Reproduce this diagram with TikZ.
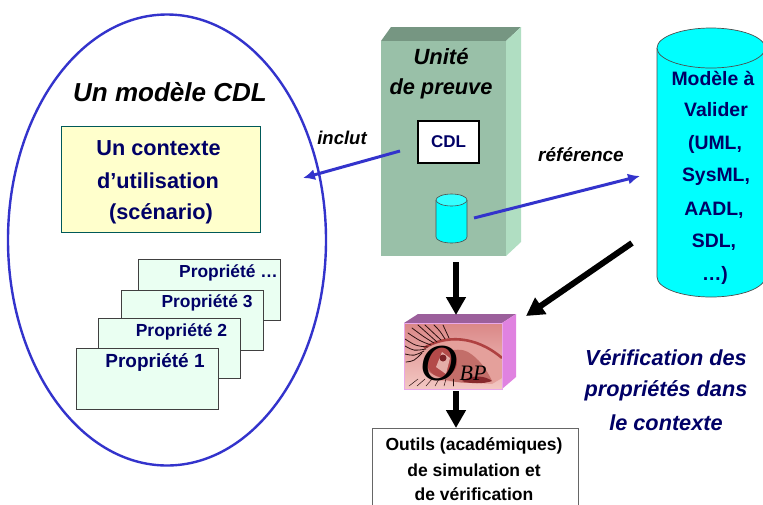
\documentclass[tikz,border=0pt]{standalone}
\usepackage{fontspec}
\setmainfont{Liberation Sans}
\newfontfamily\serifx{Liberation Serif}
\usetikzlibrary{arrows.meta,shapes.geometric}
\definecolor{navyt}{RGB}{0,0,102}
\definecolor{edgeblue}{RGB}{51,51,204}
\definecolor{mintf}{RGB}{234,255,242}
\definecolor{yellowf}{RGB}{255,255,204}
\definecolor{sage}{RGB}{153,192,168}
\definecolor{sagedark}{RGB}{118,150,130}
\definecolor{sagelight}{RGB}{176,222,194}
\definecolor{cyanf}{RGB}{0,255,255}
\definecolor{cyantop}{RGB}{51,255,255}
\definecolor{obptop}{RGB}{155,95,155}
\definecolor{obpside}{RGB}{224,130,224}
\definecolor{skinlight}{RGB}{243,200,195}
\definecolor{skinmid}{RGB}{228,160,155}
\definecolor{skintop}{RGB}{218,135,135}
\definecolor{eyered}{RGB}{175,65,65}
\definecolor{eyedark}{RGB}{125,35,40}
\definecolor{eyesoft}{RGB}{195,110,105}
\tikzset{
  navylab/.style={font=\bfseries\fontsize{#1}{#1}\selectfont,text=navyt,inner sep=0pt,anchor=center},
  blacklab/.style={font=\bfseries\itshape\fontsize{#1}{#1}\selectfont,text=black,inner sep=0pt,anchor=center},
  navyital/.style={font=\bfseries\itshape\fontsize{#1}{#1}\selectfont,text=navyt,inner sep=0pt,anchor=center},
  toollab/.style={font=\bfseries\fontsize{17.5}{17.5}\selectfont,text=black,inner sep=0pt,anchor=center},
  propbox/.style={draw=black!75,fill=mintf,line width=0.8pt,inner sep=0pt,anchor=north west,minimum width=142pt,minimum height=#1},
  bluearrow/.style={draw=edgeblue,line width=3pt,-{Latex[length=12pt,width=11pt]}},
  bigarrow/.style={draw=black,line width=6pt,-{Triangle[length=18pt,width=19pt]}},
  lash/.style={draw=black!75!eyered,line width=0.8pt,line cap=round},
}
\begin{document}
\begin{tikzpicture}[x=1pt,y=-1pt]
\useasboundingbox (0,0) rectangle (763,504);
\fill[white] (0,0) rectangle (763,504);
% large ellipse
\node[ellipse,draw=edgeblue,line width=2.4pt,minimum width=318pt,minimum height=451pt,inner sep=0pt] (modele) at (167,240) {};
\node[blacklab=26] (titre) at (170,92) {Un modèle CDL};
% context
\node[draw=teal!70!black,line width=0.6pt,fill=yellowf,minimum width=199pt,minimum height=106pt,inner sep=0pt] (ctx) at (160.5,179) {};
\node[navylab=21.7] (c1) at (158.5,148) {Un contexte};
\node[navylab=21.7] (c2) at (158,181) {d’utilisation};
\node[navylab=21.7] (c3) at (161,214) {(scénario)};
% properties
\node[propbox=61pt] (b4) at (138,259) {};
\node[navylab=17.4] (p4) at (228.5,273) {Propriété …};
\node[propbox=60pt] (b3) at (121,290) {};
\node[navylab=17.4] (p3) at (207,303) {Propriété 3};
\node[propbox=60pt] (b2) at (98,318) {};
\node[navylab=17.5] (p2) at (181.5,332) {Propriété 2};
\node[propbox=61pt] (b1) at (76,348) {};
\node[navylab=19] (p1) at (155,362) {Propriété 1};
% proof unit
\fill[sagedark] (381,41) -- (391,27) -- (521,27) -- (506,41) -- cycle;
\fill[sagelight] (506,41) -- (521,27) -- (521,242) -- (506,256) -- cycle;
\node[fill=sage,minimum width=125pt,minimum height=215pt,inner sep=0pt,anchor=north west] (unite) at (381,41) {};
\node[blacklab=22] (u1) at (441,57) {Unité};
\node[blacklab=21.8] (u2) at (441,89) {de preuve};
\node[draw=black,fill=white,line width=2.6pt,minimum width=61pt,minimum height=42pt,inner sep=0pt,font=\bfseries\fontsize{17}{17}\selectfont,text=navyt] (cdl) at (448.5,142) {CDL};
\coordinate (incA) at (400,151);
\coordinate (incB) at (303,178);
\coordinate (refA) at (474,218);
\coordinate (refB) at (640,176);
% small cylinder
\draw[fill=cyanf,draw=black!70,line width=0.6pt] (436,200) -- (436,237) arc[start angle=180,end angle=0,x radius=15.5,y radius=6] -- (467,200);
\draw[fill=cyantop,draw=black!70,line width=0.6pt] (451.5,200) ellipse[x radius=15.5,y radius=6];
% big cylinder
\draw[fill=cyanf,draw=black!70,line width=0.7pt] (657,48) -- (657,277) arc[start angle=180,end angle=0,x radius=54,y radius=20] -- (765,48);
\draw[fill=cyanf,draw=black!70,line width=0.7pt] (711,48) ellipse[x radius=54,y radius=20];
\node[navylab=19.4] (m1) at (713,78) {Modèle à};
\node[navylab=19.4] (m2) at (716,110) {Valider};
\node[navylab=19.4] (m3) at (715,144) {(UML,};
\node[navylab=19.4] (m4) at (716,177) {SysML,};
\node[navylab=19.4] (m5) at (714,210) {AADL,};
\node[navylab=19.4] (m6) at (714,242) {SDL,};
\node[navylab=19.4] (m7) at (715,275) {…)};
% blue connectors
\draw[bluearrow] (incA) -- (incB);
\draw[bluearrow] (refA) -- (refB);
\node[blacklab=18.5] (linc) at (342,138) {inclut};
\node[blacklab=19] (lref) at (581,155) {référence};
% OBP box
\fill[obptop] (404,323) -- (418,314) -- (516,314) -- (502,323) -- cycle;
\fill[obpside] (502,323) -- (516,314) -- (516,377) -- (502,389) -- cycle;
\begin{scope}
\clip (404,323) rectangle (502,389);
\shade[top color=skintop,bottom color=skinlight] (404,323) rectangle (502,389);
% lid and crease
\fill[skinmid] (422,352) .. controls (445,336) and (475,336) .. (502,360) -- (502,378) -- (492,384) -- (430,380) -- cycle;
\draw[eyered,line width=2.6pt] (424,348) .. controls (445,335) and (475,335) .. (502,358);
% eye opening
\fill[eyesoft] (424,368) .. controls (432,352) and (458,346) .. (468,352) .. controls (478,358) and (486,368) .. (492,381) .. controls (470,385) and (442,384) .. (424,368) -- cycle;
\fill[eyered!80!eyesoft] (442,362) circle[radius=15];
\fill[skinlight!70!eyesoft] (436,367) -- (442,352) -- (450,358) -- (446,374) -- cycle;
\fill[eyedark] (443,358) circle[radius=3.5];
\fill[eyedark!80!eyered] (462,381) .. controls (472,374) and (486,376) .. (492,381) .. controls (484,384) and (470,384) .. (462,381) -- cycle;
% upper lashes
\foreach \xa/\ya/\xb/\yb/\xc/\yc in {
  426/349/414/351/405/346, 428/347/416/346/405/339, 431/345/420/341/408/333,
  434/343/424/337/412/328, 437/342/428/334/418/325, 441/340/433/332/425/325,
  445/339/440/331/434/325, 449/338/446/331/443/325, 424/351/414/356/405/354,
  422/353/414/361/406/362}{
  \draw[lash] (\xa,\ya) .. controls (\xb,\yb) .. (\xc,\yc);
}
% lower lashes
\foreach \xa/\xb in {418/409,425/417,432/426,439/435,446/444,453/453}{
  \draw[lash,line width=0.5pt] (\xa,379) -- (\xb,386);
}
\end{scope}
\draw[draw=obpside!70!white,line width=0.7pt] (404,323) rectangle (502,389);
\node[inner sep=0pt,minimum width=98pt,minimum height=66pt,anchor=north west] (obp) at (404,323) {};
\node[inner sep=0pt,font=\serifx\itshape\fontsize{52}{52}\selectfont,text=black] (obpo) at (439,364) {O};
\node[inner sep=0pt,font=\serifx\itshape\fontsize{22}{22}\selectfont,text=black] (obpb) at (473,373) {BP};
% tools box
\node[draw=black!60,fill=white,line width=0.8pt,minimum width=206pt,minimum height=82pt,inner sep=0pt,anchor=north west] (outils) at (372,428) {};
\node[toollab] (o1) at (474,446) {Outils (académiques)};
\node[toollab] (o2) at (474,470) {de simulation et};
\node[toollab] (o3) at (474,494) {de vérification};
% black connectors
\coordinate (a1) at (456,262);
\coordinate (a2) at (456,315);
\coordinate (a3) at (632,243);
\coordinate (a4) at (526,316);
\coordinate (a5) at (456,391);
\coordinate (a6) at (456,428);
\draw[bigarrow] (a1) -- (a2);
\draw[bigarrow] (a3) -- (a4);
\draw[bigarrow] (a5) -- (a6);
% caption
\node[navyital=21.7] (v1) at (666,358) {Vérification des};
\node[navyital=21.7] (v2) at (666,391) {propriétés dans};
\node[navyital=21.7] (v3) at (666,423) {le contexte};
\end{tikzpicture}
\end{document}
